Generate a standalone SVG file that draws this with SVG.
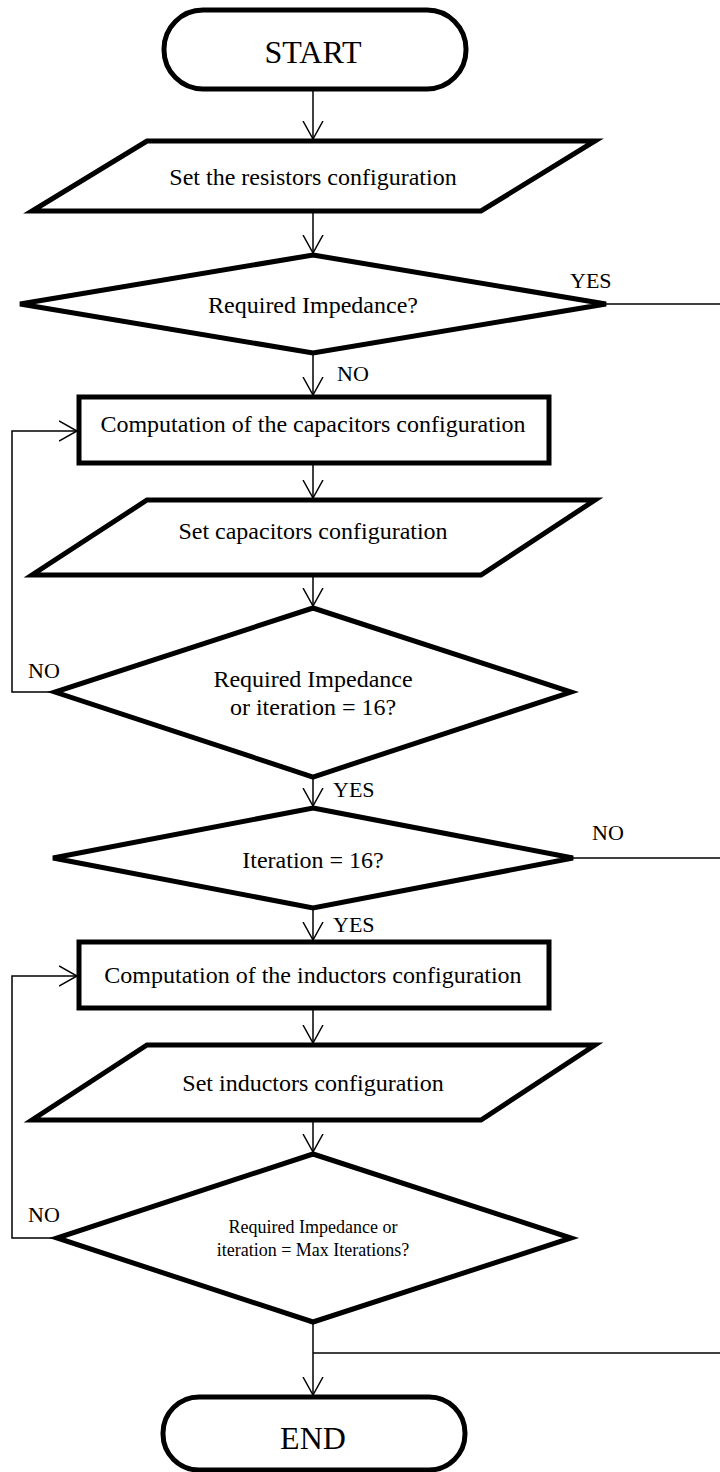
<svg xmlns="http://www.w3.org/2000/svg" width="720" height="1472" viewBox="0 0 720 1472">
<style>
.node{fill:#fff;stroke:#000;stroke-width:5;stroke-linejoin:miter}
.conn{fill:none;stroke:#000;stroke-width:1.5}
text{font-family:"Liberation Serif","Times New Roman",serif;fill:#000}
.t{font-size:24px;text-anchor:middle}
.big{font-size:32px;text-anchor:middle}
.small{font-size:18px;text-anchor:middle}
.lbl{font-size:22px}
</style>
<defs>
<marker id="arr" markerUnits="userSpaceOnUse" viewBox="0 0 20 22" refX="18" refY="11" markerWidth="20" markerHeight="22" orient="auto">
<path d="M0,1 L18,11 L0,21" fill="none" stroke="#000" stroke-width="1.5"/>
</marker>
</defs>
<rect width="720" height="1472" fill="#fff"/>
<g id="connectors">
<line class="conn" x1="313" y1="89" x2="313" y2="139" marker-end="url(#arr)"/>
<line class="conn" x1="313" y1="211" x2="313" y2="253" marker-end="url(#arr)"/>
<line class="conn" x1="313" y1="353" x2="313" y2="395" marker-end="url(#arr)"/>
<line class="conn" x1="606" y1="304" x2="720" y2="304"/>
<line class="conn" x1="313" y1="463" x2="313" y2="498" marker-end="url(#arr)"/>
<line class="conn" x1="313" y1="575" x2="313" y2="606" marker-end="url(#arr)"/>
<polyline class="conn" points="55,692 12,692 12,431 77,431" marker-end="url(#arr)"/>
<line class="conn" x1="313" y1="777" x2="313" y2="806" marker-end="url(#arr)"/>
<line class="conn" x1="573" y1="858" x2="720" y2="858"/>
<line class="conn" x1="313" y1="908" x2="313" y2="940" marker-end="url(#arr)"/>
<line class="conn" x1="313" y1="1008" x2="313" y2="1043" marker-end="url(#arr)"/>
<line class="conn" x1="313" y1="1120" x2="313" y2="1152" marker-end="url(#arr)"/>
<polyline class="conn" points="57,1238 12,1238 12,976 77,976" marker-end="url(#arr)"/>
<line class="conn" x1="313" y1="1322" x2="313" y2="1395" marker-end="url(#arr)"/>
<line class="conn" x1="313" y1="1353" x2="720" y2="1353"/>
<text class="lbl" x="570" y="288">YES</text>
<text class="lbl" x="337" y="381">NO</text>
<text class="lbl" x="28" y="678">NO</text>
<text class="lbl" x="333" y="797">YES</text>
<text class="lbl" x="592" y="840">NO</text>
<text class="lbl" x="333" y="932">YES</text>
<text class="lbl" x="28" y="1222">NO</text>
</g>
<g id="start">
<rect class="node" x="164" y="10" width="302" height="79" rx="39" ry="39"/>
<text class="big" x="313" y="63">START</text>
</g>
<g id="set-resistors">
<polygon class="node" points="147,141 595,141 481,211 32,211"/>
<text class="t" x="313" y="185">Set the resistors configuration</text>
</g>
<g id="decision-impedance">
<polygon class="node" points="313,255 606,304 313,353 20,304"/>
<text class="t" x="313" y="313">Required Impedance?</text>
</g>
<g id="compute-capacitors">
<rect class="node" x="79" y="397" width="470" height="66"/>
<text class="t" x="313" y="432">Computation of the capacitors configuration</text>
</g>
<g id="set-capacitors">
<polygon class="node" points="147,500 595,500 481,575 32,575"/>
<text class="t" x="313" y="539">Set capacitors configuration</text>
</g>
<g id="decision-cap-iter">
<polygon class="node" points="313,608 571,692 313,777 55,692"/>
<text class="t" x="313" y="687">Required Impedance</text>
<text class="t" x="313" y="715">or iteration = 16?</text>
</g>
<g id="decision-iter16">
<polygon class="node" points="313,808 573,858 313,908 53,858"/>
<text class="t" x="313" y="868">Iteration = 16?</text>
</g>
<g id="compute-inductors">
<rect class="node" x="79" y="942" width="470" height="66"/>
<text class="t" x="313" y="983">Computation of the inductors configuration</text>
</g>
<g id="set-inductors">
<polygon class="node" points="147,1045 595,1045 481,1120 32,1120"/>
<text class="t" x="313" y="1091">Set inductors configuration</text>
</g>
<g id="decision-ind-iter">
<polygon class="node" points="313,1154 571,1238 313,1322 57,1238"/>
<text class="small" x="313" y="1233">Required Impedance or</text>
<text class="small" x="313" y="1256">iteration = Max Iterations?</text>
</g>
<g id="end">
<rect class="node" x="163" y="1397" width="302" height="73" rx="36" ry="36"/>
<text class="big" x="313" y="1449">END</text>
</g>
</svg>
